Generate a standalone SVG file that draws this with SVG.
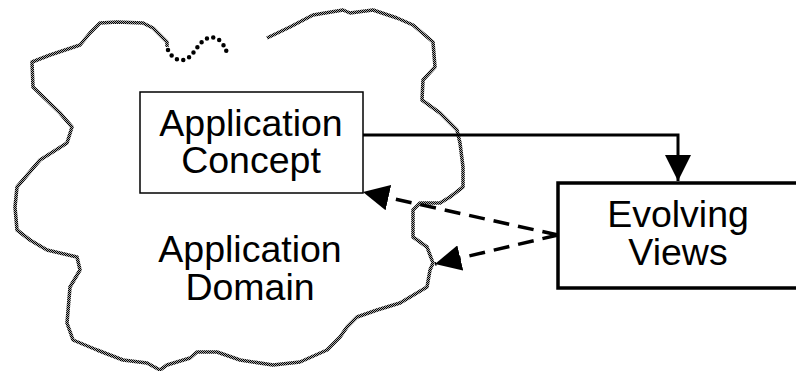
<svg xmlns="http://www.w3.org/2000/svg" width="796" height="371" viewBox="0 0 796 371">
<style>
.t{font-family:"Liberation Sans",Arial,sans-serif;font-size:37.5px;fill:#000;text-anchor:middle}
.cloud{fill:none;stroke:url(#stip);stroke-width:3.5;stroke-linejoin:round}
.dots{fill:none;stroke:#000;stroke-width:4.5;stroke-linecap:round;stroke-dasharray:0 6.5}
.dash{fill:none;stroke:#000;stroke-width:3.5;stroke-dasharray:16 9}
</style>
<defs>
<pattern id="stip" width="2" height="2" patternUnits="userSpaceOnUse">
<rect width="2" height="2" fill="#aaa"/>
<rect width="1" height="1" fill="#000"/>
<rect x="1" y="1" width="1" height="1" fill="#000"/>
</pattern>
<marker id="ah" markerWidth="28" markerHeight="26" refX="26" refY="13" orient="auto" markerUnits="userSpaceOnUse">
<path d="M0,0 L26,13 L0,26 Z" fill="#000"/>
</marker>
</defs>
<g id="domain">
<path class="cloud" d="M267,38 L290,27 L313,15 L343,10 L350,13 L373,10 L397,18 L413,25 L433,42 L435,67 L423,80 L422,100 L440,113 L457,130 L460,143 L463,167 L463,187 L450,197 L440,203 L420,203 L413,210 L413,237 L427,247 L433,263 L430,270 L427,287 L400,303 L377,310 L357,317 L347,327 L340,337 L327,350 L300,362 L273,365 L240,360 L217,352 L197,352 L190,358 L167,365 L160,370 L147,363 L123,360 L97,350 L73,340 L67,323 L70,287 L80,270 L77,257 L47,250 L30,240 L17,230 L15,207 L17,187 L40,160 L67,143 L72,127 L60,113 L33,87 L32,62 L50,55 L80,45 L90,33 L100,23 L117,22 L143,23 L153,28 L167,42 L167,47"/>
<path class="dots" d="M168,50 C172,58 178,61 184,60 C192,58 196,47 203,41 C210,35 218,37 222,43 C225,47 226,50 227,53"/>
<text class="t" x="250" y="262">Application</text>
<text class="t" x="250" y="300">Domain</text>
</g>
<g id="concept">
<rect x="140" y="92" width="223" height="101" fill="#fff" stroke="#000" stroke-width="1.5"/>
<text class="t" x="251" y="136">Application</text>
<text class="t" x="251" y="173">Concept</text>
</g>
<g id="views">
<rect x="558" y="183" width="250" height="105" fill="#fff" stroke="#000" stroke-width="3.5"/>
<text class="t" x="678" y="227">Evolving</text>
<text class="t" x="678" y="265">Views</text>
</g>
<g id="connectors">
<path d="M363,135 L678,135 L678,181" fill="none" stroke="#000" stroke-width="3" marker-end="url(#ah)"/>
<path class="dash" d="M558,235 L363,192" marker-end="url(#ah)"/>
<path class="dash" d="M558,235 L435,264" marker-end="url(#ah)"/>
</g>
</svg>
